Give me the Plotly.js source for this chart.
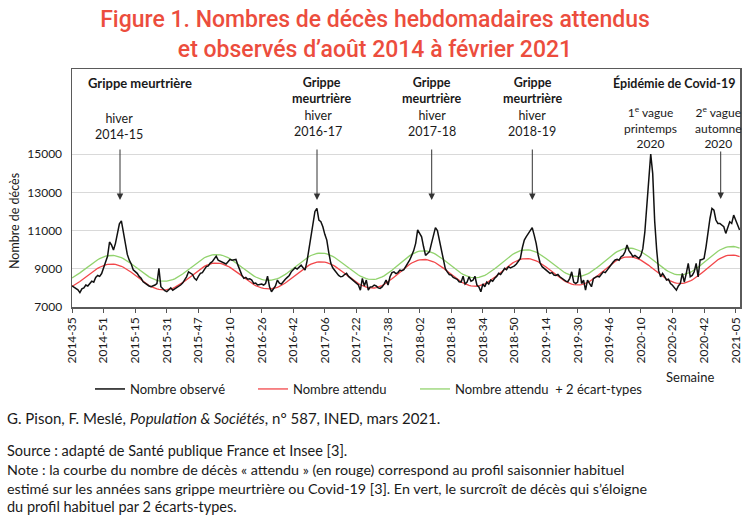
<!DOCTYPE html>
<html><head><meta charset="utf-8">
<script src="https://cdn.plot.ly/plotly-3.0.1.min.js"></script>
<style>html,body{margin:0;padding:0;background:#fff}#chart{width:750px;height:519px}</style>
</head><body><div id="chart"></div>
<script>
// ISO weeks per year (used to build the weekly category labels)
const weeksPerYear = {2014:52, 2015:53, 2016:52, 2017:52, 2018:52, 2019:52, 2020:53, 2021:52};
const weeks = [];
(function(){ let y = 2014, w = 35; while (!(y === 2021 && w > 7)) { weeks.push(y + '-' + String(w).padStart(2, '0')); w++; if (w > weeksPerYear[y]) { y++; w = 1; } } })();

const tickLabels = ['2014-35','2014-51','2015-15','2015-31','2015-47','2016-10','2016-26','2016-42','2017-06','2017-22','2017-38',
  '2018-02','2018-18','2018-34','2018-50','2019-14','2019-30','2019-46','2020-10','2020-26','2020-42','2021-05'];

const observed = [
 8110,8050,7980,7900,7750,7950,8000,8150,8100,8250,
 8350,8300,8550,8650,8600,8750,9100,9350,9650,10400,
 10250,9980,10330,10800,11350,11500,10900,10300,9750,9450,
 9250,8950,8850,8760,8600,8500,8320,8250,8150,8100,
 8060,8100,8150,8230,9020,8060,7950,7850,7800,7900,
 8000,7880,7950,8000,8060,8150,8250,8400,8580,8840,
 8750,8700,8500,8410,8600,8760,8800,8950,9110,9150,
 9300,9370,9500,9660,9450,9400,9370,9300,9250,9370,
 9490,9450,9460,9490,9190,8900,8670,8500,8550,8450,
 8480,8410,8230,8250,8150,8180,8200,8150,8230,8610,
 8060,7800,7950,8100,8410,8250,8200,8350,8450,8550,
 8650,8840,8950,9050,8980,9100,9190,9050,8930,9400,
 10000,10600,11370,12000,12160,11550,11460,11200,10800,10500,
 9850,9300,9050,8900,8760,8650,8580,8600,8700,8760,
 8600,8500,8440,8320,8200,8150,7880,8500,8100,8410,
 7880,8050,8060,8150,8100,8000,7970,8050,8200,8410,
 8150,8580,8800,8840,8750,8800,8930,8900,8950,9110,
 9300,9460,9700,9950,10330,11030,10850,10670,10150,9700,
 9800,9900,10330,10800,11150,11000,10450,9900,9450,9000,
 8840,8700,8670,8550,8500,8450,8320,8300,8610,8200,
 8300,8580,8350,8400,8610,8150,8050,7800,8200,8060,
 8300,8200,8410,8350,8500,8600,8760,8700,8850,9020,
 8950,9110,9050,9100,9150,9250,9370,9540,10100,10500,
 10680,10850,11000,11150,10760,10330,9720,9300,9110,9020,
 8950,8850,8760,8800,8670,8650,8700,8580,8500,8410,
 8350,8320,8500,8840,8300,8230,8300,9020,8230,8400,
 7880,8410,8200,8060,8490,8550,8610,8580,8700,8840,
 8800,8950,9110,9200,9350,9460,9500,9450,9630,9700,
 9890,10240,9950,9800,9630,9700,9600,9540,9700,10050,
 10900,12300,13700,15000,13990,11500,10000,8900,8580,8760,
 8600,8410,8450,8230,8140,8000,7880,8100,8230,8760,
 8300,8760,9280,8580,8650,8840,9280,8580,9460,9480,
 9540,10150,11030,11630,12160,12070,11550,11370,11370,11300,
 11200,10850,11110,11460,11370,11810,11550,11280,11030
];

const expected = [
 8070,8127,8192,8261,8336,8413,8494,8575,8656,8737,
 8814,8889,8958,9023,9080,9131,9173,9206,9230,9245,
 9250,9245,9230,9206,9173,9131,9080,9023,8958,8889,
 8814,8737,8656,8575,8494,8413,8336,8261,8192,8127,
 8070,8019,7977,7944,7920,7905,7900,7900,7905,7920,
 7946,7980,8024,8076,8136,8202,8275,8352,8432,8516,
 8600,8684,8768,8848,8925,8998,9064,9124,9176,9220,
 9255,9280,9295,9300,9295,9280,9256,9223,9181,9130,
 9073,9008,8939,8864,8787,8706,8625,8544,8463,8386,
 8311,8242,8177,8120,8069,8027,7994,7970,7955,7950,
 7950,7955,7971,7996,8031,8076,8128,8189,8257,8330,
 8408,8490,8574,8660,8746,8830,8912,8990,9063,9131,
 9191,9244,9289,9324,9349,9365,9370,9365,9350,9325,
 9291,9248,9197,9138,9072,9001,8925,8845,8763,8680,
 8597,8515,8435,8359,8288,8222,8163,8112,8069,8035,
 8010,7995,7990,7995,8012,8039,8076,8123,8179,8243,
 8314,8391,8474,8560,8650,8740,8830,8920,9006,9089,
 9166,9237,9301,9357,9404,9441,9468,9485,9490,9485,
 9470,9444,9409,9365,9313,9253,9185,9113,9035,8954,
 8870,8785,8700,8616,8535,8457,8385,8317,8257,8205,
 8161,8126,8100,8085,8080,8085,8101,8127,8164,8209,
 8264,8326,8395,8471,8551,8635,8722,8810,8898,8985,
 9069,9149,9225,9294,9356,9411,9456,9493,9519,9535,
 9540,9535,9520,9495,9460,9417,9365,9306,9240,9168,
 9091,9011,8929,8845,8761,8679,8599,8522,8450,8384,
 8325,8273,8230,8195,8170,8155,8150,8155,8171,8198,
 8235,8281,8336,8399,8470,8546,8628,8713,8801,8890,
 8979,9067,9152,9234,9310,9381,9444,9499,9545,9582,
 9609,9625,9630,9625,9610,9584,9550,9506,9454,9394,
 9328,9255,9178,9098,9014,8930,8846,8762,8682,8605,
 8532,8466,8406,8354,8310,8275,8250,8235,8230,8235,
 8252,8278,8315,8362,8417,8481,8552,8629,8711,8797,
 8885,8975,9065,9153,9239,9321,9398,9469,9533,9588,
 9635,9672,9698,9715,9720,9715,9700,9672,9635
];

const expectedPlus2sd = [
 8520,8577,8642,8711,8786,8863,8944,9025,9106,9187,
 9264,9339,9408,9473,9530,9581,9623,9656,9680,9695,
 9700,9695,9680,9656,9623,9581,9530,9473,9408,9339,
 9264,9187,9106,9025,8944,8863,8786,8711,8642,8577,
 8520,8469,8427,8394,8370,8355,8350,8350,8355,8370,
 8396,8430,8474,8526,8586,8652,8725,8802,8882,8966,
 9050,9134,9218,9298,9375,9448,9514,9574,9626,9670,
 9705,9730,9745,9750,9745,9730,9706,9673,9631,9580,
 9523,9458,9389,9314,9237,9156,9075,8994,8913,8836,
 8761,8692,8627,8570,8519,8477,8444,8420,8405,8400,
 8400,8405,8421,8446,8481,8526,8578,8639,8707,8780,
 8858,8940,9024,9110,9196,9280,9362,9440,9513,9581,
 9641,9694,9739,9774,9799,9815,9820,9815,9800,9775,
 9741,9698,9647,9588,9522,9451,9375,9295,9213,9130,
 9047,8965,8885,8809,8738,8672,8613,8562,8519,8485,
 8460,8445,8440,8445,8462,8489,8526,8573,8629,8693,
 8764,8841,8924,9010,9100,9190,9280,9370,9456,9539,
 9616,9687,9751,9807,9854,9891,9918,9935,9940,9935,
 9920,9894,9859,9815,9763,9703,9635,9563,9485,9404,
 9320,9235,9150,9066,8985,8907,8835,8767,8707,8655,
 8611,8576,8550,8535,8530,8535,8551,8577,8614,8659,
 8714,8776,8845,8921,9001,9085,9172,9260,9348,9435,
 9519,9599,9675,9744,9806,9861,9906,9943,9969,9985,
 9990,9985,9970,9945,9910,9867,9815,9756,9690,9618,
 9541,9461,9379,9295,9211,9129,9049,8972,8900,8834,
 8775,8723,8680,8645,8620,8605,8600,8605,8621,8648,
 8685,8731,8786,8849,8920,8996,9078,9163,9251,9340,
 9429,9517,9602,9684,9760,9831,9894,9949,9995,10032,
 10059,10075,10080,10075,10060,10034,10000,9956,9904,9844,
 9778,9705,9628,9548,9464,9380,9296,9212,9132,9055,
 8982,8916,8856,8804,8760,8725,8700,8685,8680,8685,
 8702,8728,8765,8812,8867,8931,9002,9079,9161,9247,
 9335,9425,9515,9603,9689,9771,9848,9919,9983,10038,
 10085,10122,10148,10165,10170,10165,10150,10122,10085
];

const yTicks = [7000, 9000, 11000, 13000, 15000];

const F = 'Lato, "Open Sans", sans-serif';
const TXT = '#1a1a1a';
// pixel -> paper helpers (plot area: x 72..740, y 69..307)
const X = p => (p - 72) / 668;
const Y = p => (307 - p) / 238;

function label(px, py, text, size, bold, anchor) {
  return {xref:'paper', yref:'paper', x:X(px), y:Y(py), text:text, showarrow:false,
    xanchor: anchor || 'center', yanchor:'middle',
    font:{family:F, size:size, color:TXT, weight: bold ? 700 : 400}};
}
function arrow(px, yTop, yTip) {
  return {xref:'paper', yref:'paper', x:X(px), y:Y(yTip), ax:0, ay:-(yTip - yTop), axref:'pixel', ayref:'pixel',
    text:'', showarrow:true, arrowhead:2, arrowsize:1.3, arrowwidth:1, arrowcolor:'#333', standoff:0};
}

const annotations = [
  label(139.5, 83, 'Grippe meurtrière', 13, true),
  label(119, 126, 'hiver<br>2014-15', 12.5),
  arrow(120, 148, 200),
  label(321.5, 90, 'Grippe<br>meurtrière', 12.5, true),
  label(318, 123, 'hiver<br>2016-17', 12.5),
  arrow(317, 148, 200),
  label(431.7, 90, 'Grippe<br>meurtrière', 12.5, true),
  label(431.7, 123, 'hiver<br>2017-18', 12.5),
  arrow(431.7, 148, 200),
  label(532.3, 90, 'Grippe<br>meurtrière', 12.5, true),
  label(532.3, 123, 'hiver<br>2018-19', 12.5),
  arrow(532.3, 148, 200),
  label(673.5, 83, 'Épidémie de Covid-19', 12.5, true),
  label(650, 127, '1<sup>e</sup> vague<br>printemps<br>2020', 12),
  label(718, 127, '2<sup>e</sup> vague<br>automne<br>2020', 12),
  arrow(720.7, 150, 199),
  label(690, 377, 'Semaine', 13),
  Object.assign(label(14, 221, 'Nombre de décès', 12.5), {textangle:-90}),
  label(5, 418, 'G. Pison, F. Meslé, <i>Population &amp; Sociétés</i>, n° 587, INED, mars 2021.', 15, false, 'left'),
  label(5, 450, 'Source : adapté de Santé publique France et Insee [3].', 14.5, false, 'left'),
  label(5, 469, 'Note : la courbe du nombre de décès « attendu » (en rouge) correspond au profil saisonnier habituel', 14.3, false, 'left'),
  label(5, 488, 'estimé sur les années sans grippe meurtrière ou Covid-19 [3]. En vert, le surcroît de décès qui s’éloigne', 14.3, false, 'left'),
  label(5, 506, 'du profil habituel par 2 écarts-types.', 14.5, false, 'left')
];

const traces = [
  {type:'scatter', mode:'lines', name:'Nombre attendu\u00a0 + 2 écart-types', x:weeks, y:expectedPlus2sd,
   line:{color:'#92D36E', width:1.3}, legend:'legend3'},
  {type:'scatter', mode:'lines', name:'Nombre attendu', x:weeks, y:expected,
   line:{color:'#F2474A', width:1.3}, legend:'legend2'},
  {type:'scatter', mode:'lines', name:'Nombre observé', x:weeks, y:observed,
   line:{color:'#111111', width:1.5}, legend:'legend'}
];

function legendAt(px) {
  return {orientation:'h', x:X(px), xanchor:'left', y:Y(389), yanchor:'middle',
    font:{family:F, size:13, color:TXT}, bgcolor:'rgba(0,0,0,0)'};
}

const layout = {
  width:750, height:519,
  margin:{l:72, r:10, t:69, b:212},
  paper_bgcolor:'#ffffff', plot_bgcolor:'#ffffff',
  font:{family:F, color:TXT},
  title:{text:'Figure 1. Nombres de décès hebdomadaires attendus<br>et observés d’août 2014 à février 2021',
    font:{family:'Roboto, sans-serif', size:23, color:'#EC4D3D', weight:500},
    x:0.5, xanchor:'center', xref:'container', y:1 - 27/519, yanchor:'middle', yref:'container'},
  showlegend:true,
  legend:legendAt(90),
  legend2:legendAt(253),
  legend3:legendAt(415),
  xaxis:{type:'category', range:[0, 338.2], tickmode:'array', tickvals:tickLabels, ticktext:tickLabels,
    tickangle:-90, ticks:'outside', ticklen:4, tickcolor:'#555', tickwidth:1,
    tickfont:{family:F, size:12, color:TXT}, showgrid:false, zeroline:false,
    showline:true, mirror:true, linecolor:'#5a5a5a', linewidth:1.5},
  yaxis:{range:[7000, 19450], tickmode:'array', tickvals:yTicks, tickformat:'d', ticks:'outside', ticklen:6,
    tickcolor:'rgba(0,0,0,0)', tickfont:{family:F, size:12, color:TXT}, showgrid:true, gridcolor:'#d9d9d9',
    gridwidth:1, zeroline:false, showline:true, mirror:true, linecolor:'#5a5a5a', linewidth:1.5},
  annotations:annotations,
  hovermode:false
};

Plotly.newPlot('chart', traces, layout, {staticPlot:true, displayModeBar:false});
</script>
</body></html>
